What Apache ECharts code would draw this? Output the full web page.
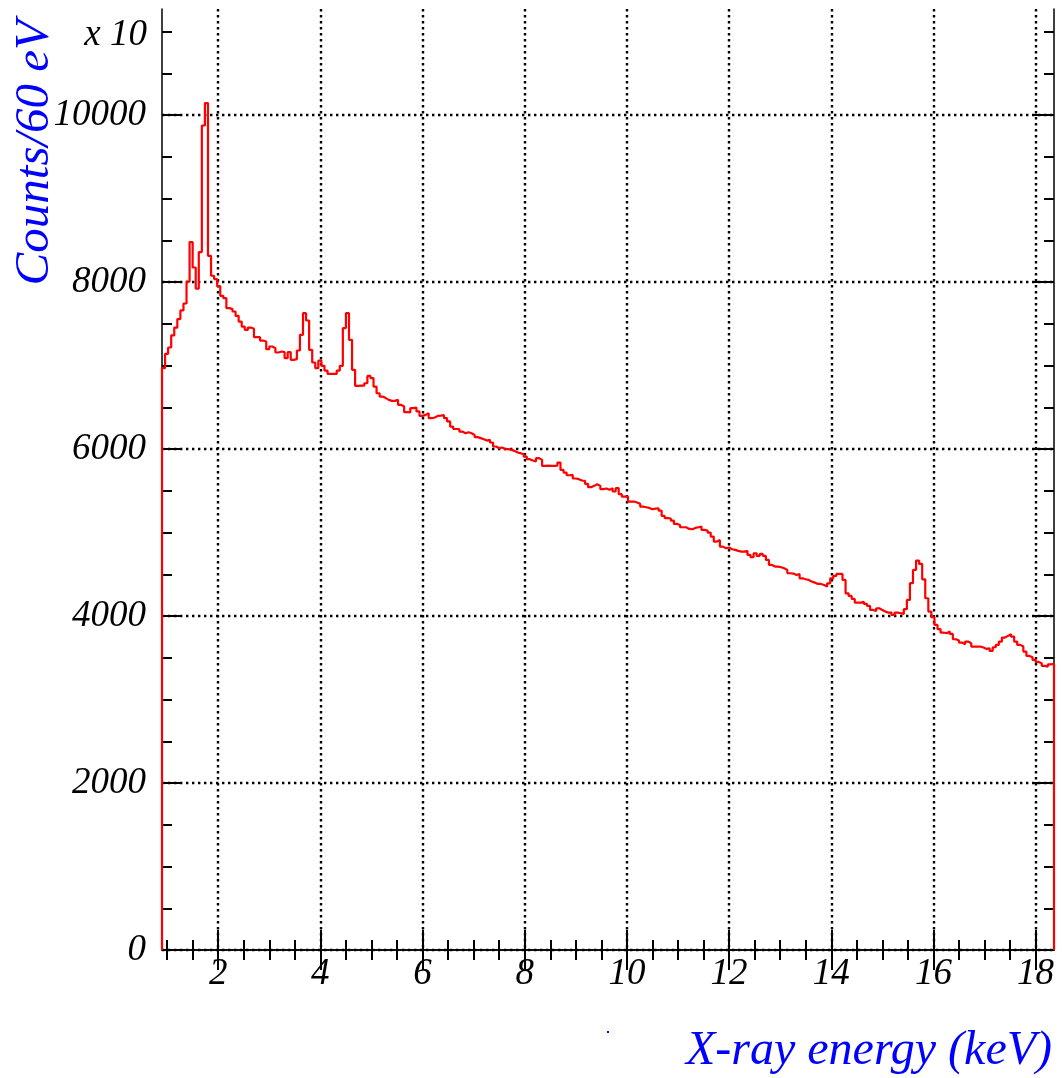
<!DOCTYPE html>
<html>
<head>
<meta charset="utf-8">
<script src="https://cdn.jsdelivr.net/npm/echarts@6/dist/echarts.min.js"></script>
<style>
html,body{margin:0;padding:0;background:#fff;}
#chart{width:1062px;height:1078px;}
</style>
</head>
<body>
<div id="chart"></div>
<script>
// Histogram definition: 60 eV bins starting at 0.9 keV
const binStart = 0.9;
const binWidth = 0.06;
const xMin = 0.9;
const xMax = 18.36;
const yMin = 0;
const yMax = 11270;

// Counts per bin (x 10)
const counts = [
  6968,7140,7216,7360,7455,7556,7660,7743,8006,8478,
  8174,7922,8359,9875,10143,8314,8075,8035,7950,7835,
  7807,7687,7675,7647,7595,7527,7467,7428,7455,7440,
  7340,7340,7299,7287,7196,7228,7208,7156,7168,7160,
  7088,7160,7068,7076,7180,7368,7627,7539,7188,7036,
  6968,7060,6996,6940,6900,6900,6900,6940,6996,7448,
  7627,7308,6948,6757,6760,6760,6788,6876,6850,6748,
  6668,6628,6610,6589,6577,6577,6589,6529,6510,6441,
  6438,6489,6497,6450,6397,6409,6429,6369,6377,6397,
  6400,6405,6370,6330,6269,6240,6240,6209,6189,6201,
  6189,6169,6142,6130,6118,6101,6110,6078,6030,6010,
  6018,5998,5998,5990,5978,5958,5950,5938,5910,5878,
  5862,5850,5890,5870,5798,5802,5798,5798,5802,5838,
  5750,5718,5686,5690,5647,5639,5623,5619,5583,5543,
  5559,5579,5559,5519,5527,5511,5531,5491,5531,5459,
  5431,5431,5371,5371,5359,5343,5311,5303,5295,5279,
  5287,5291,5263,5199,5172,5168,5143,5103,5091,5063,
  5063,5043,5039,5055,5063,5071,5031,5023,4999,4951,
  4891,4911,4831,4812,4820,4800,4792,4780,4772,4772,
  4780,4732,4704,4752,4720,4744,4720,4672,4612,4592,
  4592,4584,4572,4552,4512,4508,4492,4504,4452,4440,
  4432,4412,4400,4384,4384,4372,4352,4392,4452,4480,
  4504,4504,4432,4272,4241,4205,4161,4161,4169,4145,
  4121,4073,4061,4093,4073,4053,4041,4041,4013,4041,
  4033,4025,4082,4193,4393,4552,4664,4624,4440,4213,
  4053,3985,3893,3842,3802,3794,3814,3786,3722,3706,
  3682,3662,3694,3674,3634,3634,3634,3622,3606,3614,
  3582,3626,3654,3694,3742,3762,3782,3754,3694,3654,
  3634,3574,3522,3506,3474,3450,3434,3402,3394,3422,
  3426
];

// Tick positions and labels
const xMajor = [2,4,6,8,10,12,14,16,18];
const xMinor = [1,1.5,2.5,3,3.5,4.5,5,5.5,6.5,7,7.5,8.5,9,9.5,10.5,11,11.5,12.5,13,13.5,14.5,15,15.5,16.5,17,17.5];
const yMajor = [0,2000,4000,6000,8000,10000];
const yMinor = [500,1000,1500,2500,3000,3500,4500,5000,5500,6500,7000,7500,8500,9000,9500,10500,11000];
const xTickLabels = ['2','4','6','8','10','12','14','16','18'];
const yTickLabels = ['0','2000','4000','6000','8000','10000'];

const xTitle = 'X-ray energy (keV)';
const yTitle = 'Counts/60 eV';
const yExponent = 'x 10';

// Build step path of the histogram (bin edges)
const pts = [[binStart, 0]];
for (let i = 0; i < counts.length; i++) {
  pts.push([+(binStart + i * binWidth).toFixed(4), counts[i]]);
}
const lastEdge = +(binStart + counts.length * binWidth).toFixed(4);
pts.push([lastEdge, counts[counts.length - 1]]);
pts.push([lastEdge, 0]);

const serif = 'Liberation Serif, Times New Roman, serif';
const labelFont = {fontFamily: serif, fontStyle: 'italic', fontSize: 37, color: '#000'};
const gridDots = {show: true, lineStyle: {color: '#000', width: 2.4, type: [2.4, 3.6]}};

function majorAxis(kind, pos, withLabels, withGrid) {
  const isX = kind === 'x';
  const vals = isX ? xMajor : yMajor;
  const lbls = isX ? xTickLabels : yTickLabels;
  return {
    type: 'value', position: pos,
    min: isX ? xMin : yMin, max: isX ? xMax : yMax,
    splitNumber: isX ? 9 : 6,
    axisLine: {show: true, lineStyle: {color: '#000', width: 1.5}},
    axisTick: {show: true, inside: true, length: 20, customValues: vals, lineStyle: {color: '#000', width: 2}},
    minorTick: {show: false},
    axisLabel: withLabels ? Object.assign({
      show: true, customValues: vals, margin: isX ? 6 : 16,
      formatter: function (v) { const k = vals.indexOf(v); return k >= 0 ? lbls[k] : ''; }
    }, labelFont) : {show: false},
    splitLine: withGrid ? gridDots : {show: false}
  };
}
function minorAxis(kind, pos) {
  const isX = kind === 'x';
  return {
    type: 'value', position: pos,
    min: isX ? xMin : yMin, max: isX ? xMax : yMax,
    splitNumber: isX ? 9 : 6,
    axisLine: {show: false},
    axisTick: {show: true, inside: true, length: 10, customValues: isX ? xMinor : yMinor, lineStyle: {color: '#000', width: 2}},
    axisLabel: {show: false},
    splitLine: {show: false}
  };
}

const chart = echarts.init(document.getElementById('chart'), null, {renderer: 'canvas'});
chart.setOption({
  animation: false,
  backgroundColor: '#fff',
  grid: {left: 162, right: 8, top: 9, bottom: 128, containLabel: false},
  xAxis: [
    majorAxis('x', 'bottom', true, true),
    minorAxis('x', 'bottom'),
    majorAxis('x', 'top', false, false),
    minorAxis('x', 'top')
  ],
  yAxis: [
    majorAxis('y', 'left', true, true),
    minorAxis('y', 'left'),
    majorAxis('y', 'right', false, false),
    minorAxis('y', 'right')
  ],
  series: [{
    type: 'line', step: 'end', data: pts,
    xAxisIndex: 0, yAxisIndex: 0,
    symbol: 'none', clip: true,
    lineStyle: {color: '#ff0000', width: 2.2}
  }],
  graphic: [
    {type: 'text', x: 147, y: 35, style: {text: yExponent, textAlign: 'right', textVerticalAlign: 'middle', font: 'italic 37px ' + serif, fill: '#000'}},
    {type: 'text', x: 35, y: 20, rotation: Math.PI / 2, style: {text: yTitle, textAlign: 'right', textVerticalAlign: 'middle', font: 'italic 49px ' + serif, fill: '#0000ff'}},
    {type: 'text', x: 1052, y: 1051, style: {text: xTitle, textAlign: 'right', textVerticalAlign: 'middle', font: 'italic 48px ' + serif, fill: '#0000ff'}},
    {type: 'rect', shape: {x: 607, y: 1031, width: 2, height: 2}, style: {fill: '#0000ff'}}
  ]
});
</script>
</body>
</html>
